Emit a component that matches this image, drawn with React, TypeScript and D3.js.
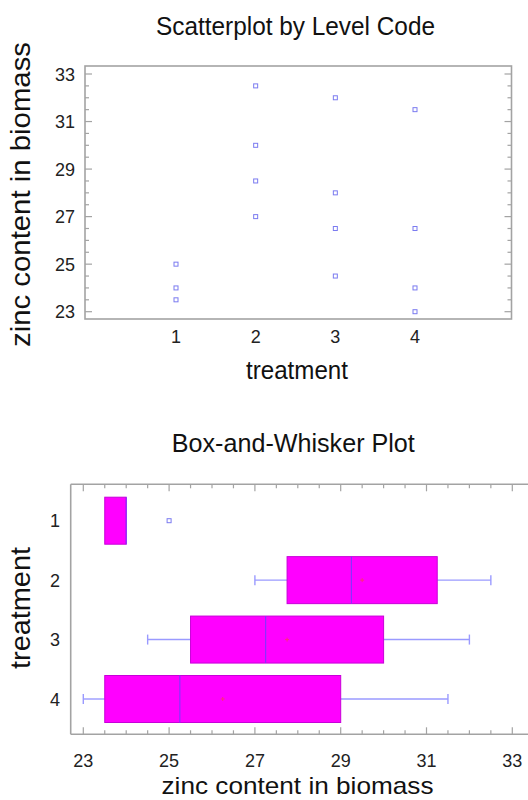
import React from "react";
import * as d3 from "d3";

// ---- data ----
const treatments = [1, 2, 3, 4];
const zincByTreatment: number[][] = [
  [25, 24, 23.5],
  [32.5, 30, 28.5, 27],
  [32, 28, 26.5, 24.5],
  [31.5, 26.5, 24, 23],
];
// box statistics
const boxQ1 = [23.5, 27.75, 25.5, 23.5];
const boxMedian = [24, 29.25, 27.25, 25.25];
const boxQ3 = [24, 31.25, 30, 29];
const whiskerLow = [23.5, 27, 24.5, 23];
const whiskerHigh = [24, 32.5, 32, 31.5];
const outliers: number[][] = [[25], [], [], []];
const valueTicks = [23, 25, 27, 29, 31, 33];
const minorValueTicks = d3.range(23, 33.01, 0.5);

const FONT = "'Liberation Sans', Arial, Helvetica, sans-serif";
const FRAME = "#a3a3a3";
const POINT = "#7b7bf0";
const WHISK = "#9a9aff";
const BOXFILL = "#ff00ff";

export default function App() {
  // ---- scatterplot scales ----
  const sx = d3.scaleLinear().domain([1, 4]).range([176, 415]);
  const sy = d3.scaleLinear().domain([23, 33]).range([311.7, 74]);
  const sFrame = { l: 85, r: 511.5, t: 66, b: 319 };

  // ---- box plot scales ----
  const bx = d3.scaleLinear().domain([23, 33]).range([83.3, 512.3]);
  const by = d3.scaleLinear().domain([1, 4]).range([520.7, 699]);
  const bFrame = { l: 70.7, r: 540, t: 484.3, b: 734.3 };
  const boxH = 47;

  const isMajor = (v: number) => valueTicks.some((t) => Math.abs(t - v) < 1e-6);

  return (
    <svg
      width={528}
      height={800}
      style={{ position: "absolute", left: 0, top: 0, background: "#fff" }}
      fontFamily={FONT}
    >
      <rect x={0} y={0} width={528} height={800} fill="#fff" />

      {/* ================= Scatterplot ================= */}
      <text x={295.5} y={35} fontSize={25} textAnchor="middle" textLength={279} lengthAdjust="spacingAndGlyphs" fill="#111">
        Scatterplot by Level Code
      </text>
      <rect
        x={sFrame.l}
        y={sFrame.t}
        width={sFrame.r - sFrame.l}
        height={sFrame.b - sFrame.t}
        fill="none"
        stroke={FRAME}
        strokeWidth={1.6}
      />
      {minorValueTicks.map((v) => {
        const len = isMajor(v) ? 7 : 4;
        return (
          <g key={"syt" + v}>
            <line x1={sFrame.l} x2={sFrame.l + len} y1={sy(v)} y2={sy(v)} stroke={FRAME} strokeWidth={1.2} />
            <line x1={sFrame.r} x2={sFrame.r - len} y1={sy(v)} y2={sy(v)} stroke={FRAME} strokeWidth={1.2} />
          </g>
        );
      })}
      {valueTicks.map((v) => (
        <text key={"syl" + v} x={75} y={sy(v) + 6.5} fontSize={18} textAnchor="end" fill="#222">
          {v}
        </text>
      ))}
      {treatments.map((t) => (
        <text key={"sxl" + t} x={sx(t)} y={343} fontSize={18} textAnchor="middle" fill="#222">
          {t}
        </text>
      ))}
      {treatments.map((t, i) =>
        zincByTreatment[i].map((v, j) => (
          <rect
            key={"pt" + i + "-" + j}
            x={sx(t) - 2}
            y={sy(v) - 2}
            width={4}
            height={4}
            fill="none"
            stroke={POINT}
            strokeWidth={1}
          />
        ))
      )}
      <text x={297} y={379} fontSize={25} textAnchor="middle" textLength={102} lengthAdjust="spacingAndGlyphs" fill="#111">
        treatment
      </text>
      <text
        transform={`translate(30,194.5) rotate(-90)`}
        fontSize={28}
        textAnchor="middle"
        textLength={305}
        lengthAdjust="spacingAndGlyphs"
        fill="#111"
      >
        zinc content in biomass
      </text>

      {/* ================= Box-and-Whisker ================= */}
      <text x={293.3} y={452} fontSize={25} textAnchor="middle" textLength={243} lengthAdjust="spacingAndGlyphs" fill="#111">
        Box-and-Whisker Plot
      </text>
      <line x1={bFrame.l} x2={bFrame.r} y1={bFrame.t} y2={bFrame.t} stroke={FRAME} strokeWidth={1.6} />
      <line x1={bFrame.l} x2={bFrame.r} y1={bFrame.b} y2={bFrame.b} stroke={FRAME} strokeWidth={1.6} />
      <line x1={bFrame.l} x2={bFrame.l} y1={bFrame.t} y2={bFrame.b} stroke={FRAME} strokeWidth={1.6} />
      {minorValueTicks.map((v) => {
        const len = isMajor(v) ? 7 : 4;
        return (
          <g key={"bxt" + v}>
            <line x1={bx(v)} x2={bx(v)} y1={bFrame.t} y2={bFrame.t + len} stroke={FRAME} strokeWidth={1.2} />
            <line x1={bx(v)} x2={bx(v)} y1={bFrame.b} y2={bFrame.b - len} stroke={FRAME} strokeWidth={1.2} />
          </g>
        );
      })}
      {valueTicks.map((v) => (
        <text key={"bxl" + v} x={bx(v)} y={767} fontSize={18} textAnchor="middle" fill="#222">
          {v}
        </text>
      ))}
      {treatments.map((t) => (
        <text key={"byl" + t} x={60} y={by(t) + 6.5} fontSize={18} textAnchor="end" fill="#222">
          {t}
        </text>
      ))}
      {treatments.map((t, i) => {
        const cy = by(t);
        const mean = d3.mean(zincByTreatment[i]) as number;
        return (
          <g key={"box" + t}>
            {/* whiskers */}
            <line x1={bx(whiskerLow[i])} x2={bx(boxQ1[i])} y1={cy} y2={cy} stroke={WHISK} strokeWidth={1.4} />
            <line x1={bx(boxQ3[i])} x2={bx(whiskerHigh[i])} y1={cy} y2={cy} stroke={WHISK} strokeWidth={1.4} />
            {whiskerLow[i] < boxQ1[i] && (
              <line x1={bx(whiskerLow[i])} x2={bx(whiskerLow[i])} y1={cy - 5} y2={cy + 5} stroke={WHISK} strokeWidth={1.4} />
            )}
            {whiskerHigh[i] > boxQ3[i] && (
              <line x1={bx(whiskerHigh[i])} x2={bx(whiskerHigh[i])} y1={cy - 5} y2={cy + 5} stroke={WHISK} strokeWidth={1.4} />
            )}
            {/* box */}
            <rect
              x={bx(boxQ1[i])}
              y={cy - boxH / 2}
              width={bx(boxQ3[i]) - bx(boxQ1[i])}
              height={boxH}
              fill={BOXFILL}
              stroke="#c800d8"
              strokeWidth={1}
            />
            <line
              x1={bx(boxMedian[i])}
              x2={bx(boxMedian[i])}
              y1={cy - boxH / 2}
              y2={cy + boxH / 2}
              stroke="#8a30ff"
              strokeWidth={1.2}
            />
            {/* mean marker */}
            {boxQ3[i] - boxQ1[i] > 1 && (
              <g stroke="#ff2a7a" strokeWidth={1}>
                <line x1={bx(mean) - 2} x2={bx(mean) + 2} y1={cy} y2={cy} />
                <line x1={bx(mean)} x2={bx(mean)} y1={cy - 2} y2={cy + 2} />
              </g>
            )}
            {outliers[i].map((o, k) => (
              <rect
                key={"out" + k}
                x={bx(o) - 2}
                y={cy - 2}
                width={4}
                height={4}
                fill="none"
                stroke={POINT}
                strokeWidth={1}
              />
            ))}
          </g>
        );
      })}
      <text x={297.5} y={794} fontSize={24} textAnchor="middle" textLength={272} lengthAdjust="spacingAndGlyphs" fill="#111">
        zinc content in biomass
      </text>
      <text
        transform={`translate(30,608) rotate(-90)`}
        fontSize={28}
        textAnchor="middle"
        textLength={122}
        lengthAdjust="spacingAndGlyphs"
        fill="#111"
      >
        treatment
      </text>
    </svg>
  );
}
